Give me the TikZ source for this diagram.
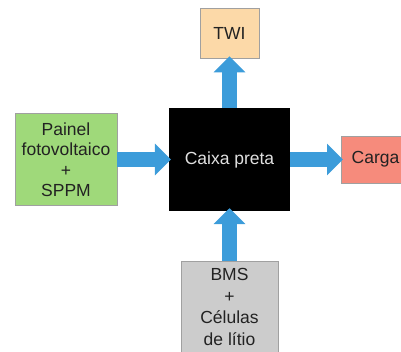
\documentclass[tikz,border=0pt]{standalone}
\usepackage{fontspec}
\setmainfont{Liberation Sans}
\usetikzlibrary{arrows.meta}
\definecolor{twi}{HTML}{FCD9A8}
\definecolor{pv}{HTML}{9FD97A}
\definecolor{carga}{HTML}{F68B7C}
\definecolor{bms}{HTML}{CCCCCC}
\definecolor{flow}{HTML}{3C9CDA}
\definecolor{edge}{HTML}{A0A0A0}
\definecolor{txt}{HTML}{222222}
\begin{document}
\begin{tikzpicture}[x=1pt,y=-1pt,
  blk/.style={draw=edge, line width=0.6pt, inner sep=0pt, text=txt, align=center,
    font=\fontsize{17.5}{20.5}\selectfont},
  flowarrow/.style={draw=flow, line width=15pt, -{Triangle[width=31pt,length=16pt]}}]
\useasboundingbox (0,0) rectangle (401,352);
\clip (0,0) rectangle (401,352);
\node[blk, fill=twi, minimum width=59pt, minimum height=50pt] (twi) at (229.5,33) {TWI};
\node[fill=black, inner sep=0pt, minimum width=121pt, minimum height=103pt,
  text=white!88!black, font=\fontsize{17.5}{20.5}\selectfont] (box) at (229.5,159.5) {Caixa preta};
\node[blk, fill=pv, minimum width=102pt, minimum height=92pt] (pv) at (66,159.5)
  {Painel\\fotovoltaico\\+\\SPPM};
\node[blk, fill=carga, minimum width=80pt, minimum height=47pt, anchor=west] (carga) at (341,159.5) {};
\node[anchor=west, inner sep=0pt, text=txt, font=\fontsize{17.5}{20.5}\selectfont] (cargatxt) at (351.5,159.5) {Carga};
\node[blk, fill=bms, minimum width=97pt, minimum height=91pt,
  font=\fontsize{17.5}{21.5}\selectfont] (bms) at (229.5,307) {BMS\\+\\Células\\de lítio};
\draw[flowarrow, shorten >=-2pt] (pv.east) -- (box.west);
\draw[flowarrow, shorten >=-2pt] (box.east) -- (carga.west);
\draw[flowarrow, shorten >=-2pt] (box.north) -- (twi.south);
\draw[flowarrow, shorten >=-3pt] (bms.north) -- (box.south);
\end{tikzpicture}
\end{document}
